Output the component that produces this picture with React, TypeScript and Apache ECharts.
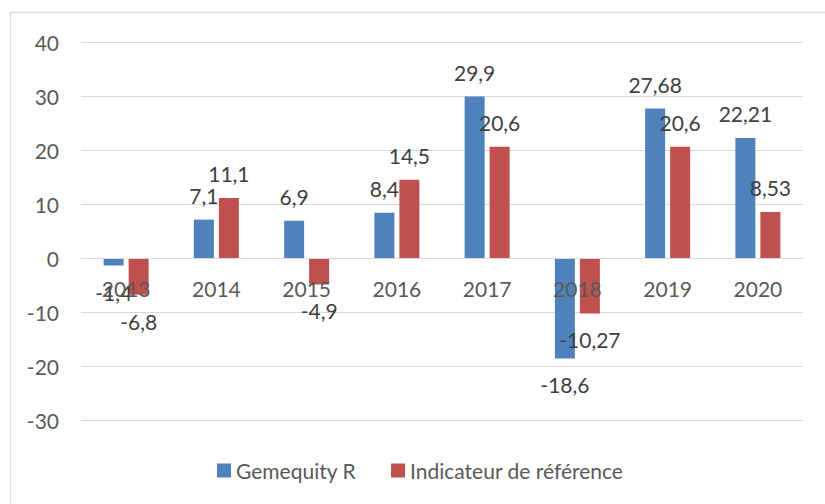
import React, { useEffect, useRef } from "react";
import * as echarts from "echarts";

const categories = ["2013", "2014", "2015", "2016", "2017", "2018", "2019", "2020"];
const gemequity = [-1.4, 7.1, 6.9, 8.4, 29.9, -18.6, 27.68, 22.21];
const indicateur = [-6.8, 11.1, -4.9, 14.5, 20.6, -10.27, 20.6, 8.53];
const seriesNames = ["Gemequity R", "Indicateur de référence"];

const FONT = "Lato, 'Open Sans', sans-serif";

function toData(values: number[]) {
  return values.map((v) => ({
    value: v,
    label: v < 0 ? { position: "bottom", distance: 16 } : { position: "top", distance: 14 },
  }));
}

export default function App() {
  const ref = useRef<HTMLDivElement>(null);
  useEffect(() => {
    if (!ref.current) return;
    const chart = echarts.init(ref.current, undefined, { renderer: "svg" });
    const labelCfg = {
      show: true,
      fontFamily: FONT,
      fontSize: 21,
      color: "#404040",
      formatter: (p: any) => String(p.value).replace(".", ","),
    };
    chart.setOption({
      animation: false,
      backgroundColor: "#ffffff",
      textStyle: { fontFamily: FONT },
      grid: { left: 81, right: 22, top: 42, bottom: 84, containLabel: false },
      graphic: [
        { type: "line", shape: { x1: 10, y1: 12.5, x2: 825, y2: 12.5 }, style: { stroke: "#d9d9d9", lineWidth: 1.5 } },
        { type: "line", shape: { x1: 10.5, y1: 12, x2: 10.5, y2: 504 }, style: { stroke: "#d9d9d9", lineWidth: 1.5 } },
      ],
      legend: {
        data: seriesNames,
        left: 212,
        top: 455,
        itemWidth: 14,
        itemHeight: 14,
        itemGap: 35,
        icon: "rect",
        textStyle: { fontFamily: FONT, fontSize: 21, color: "#595959" },
      },
      xAxis: {
        type: "category",
        data: categories,
        offset: -162,
        z: 10,
        axisLine: { onZero: false, lineStyle: { color: "#d9d9d9", width: 1 } },
        axisTick: { show: false },
        axisLabel: { interval: 0, margin: 20, fontFamily: FONT, fontSize: 21, color: "#595959" },
      },
      yAxis: {
        type: "value",
        min: -30,
        max: 40,
        interval: 10,
        axisLine: { show: false },
        axisTick: { show: false },
        splitLine: { lineStyle: { color: "#d9d9d9", width: 1 } },
        axisLabel: { margin: 22, fontFamily: FONT, fontSize: 21, color: "#595959" },
      },
      series: [
        {
          name: seriesNames[0],
          type: "bar",
          data: toData(gemequity),
          barWidth: 20,
          barGap: "25%",
          itemStyle: { color: "#4F81BD" },
          label: labelCfg,
        },
        {
          name: seriesNames[1],
          type: "bar",
          data: toData(indicateur),
          barWidth: 20,
          barGap: "25%",
          itemStyle: { color: "#C0504D" },
          label: labelCfg,
        },
      ],
    });
    return () => chart.dispose();
  }, []);
  return (
    <div
      ref={ref}
      style={{ position: "absolute", left: 0, top: 0, width: 825, height: 504, background: "#fff" }}
    />
  );
}
